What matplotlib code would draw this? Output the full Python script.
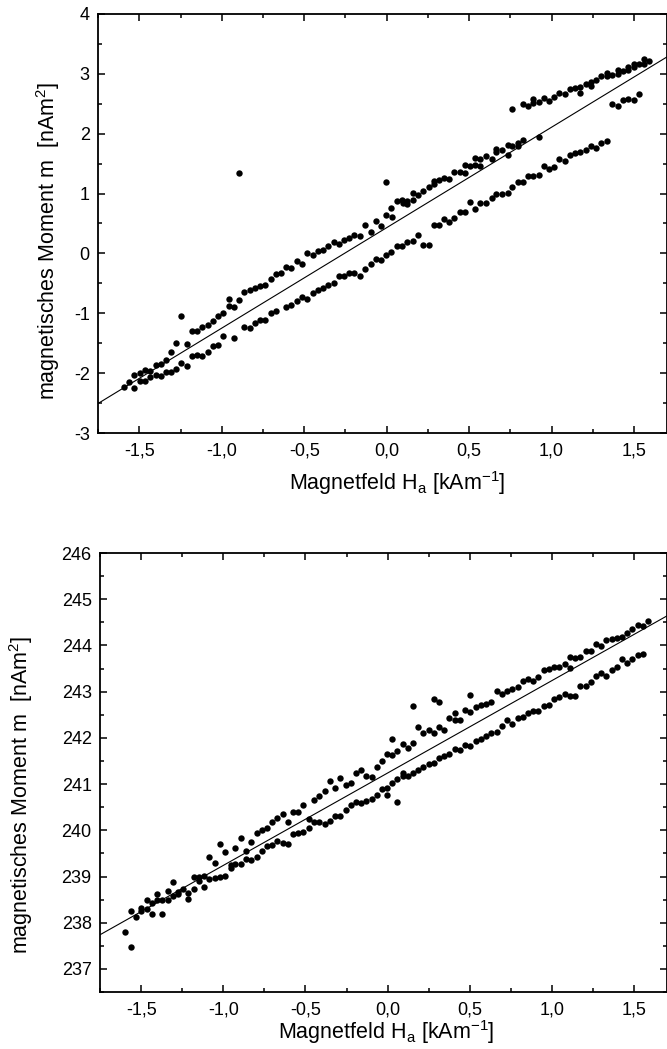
# -*- coding: utf-8 -*-
# Magnetisches Moment gegen Magnetfeld, zwei Messungen mit Ausgleichsgeraden
import numpy as np
import matplotlib
matplotlib.use('Agg')
import matplotlib.pyplot as plt
from matplotlib.ticker import MultipleLocator, FuncFormatter

plt.rcParams['font.family'] = ['Liberation Sans', 'DejaVu Sans']
plt.rcParams['mathtext.default'] = 'regular'

# ---------------- Messung 1 (oben) ----------------
H1_auf = [-1.595, -1.563, -1.530, -1.498, -1.466, -1.433, -1.401, -1.370, -1.338, -1.308,
          -1.275, -1.245, -1.213, -1.180, -1.150, -1.117, -1.085, -1.055, -1.022, -0.990,
          -0.957, -0.957, -0.925, -0.895, -0.895, -0.862, -0.830, -0.800, -0.767, -0.735,
          -0.704, -0.672, -0.640, -0.609, -0.577, -0.545, -0.512, -0.482, -0.449, -0.417,
          -0.387, -0.354, -0.322, -0.291, -0.259, -0.227, -0.196, -0.164, -0.130, -0.097,
          -0.065, -0.032, -0.002, -0.002, 0.024, 0.032, 0.065, 0.093, 0.097, 0.126,
          0.126, 0.158, 0.158, 0.190, 0.223, 0.255, 0.285, 0.285, 0.316, 0.348,
          0.381, 0.411, 0.443, 0.476, 0.476, 0.508, 0.538, 0.538, 0.569, 0.569,
          0.603, 0.636, 0.664, 0.664, 0.700, 0.733, 0.733, 0.763, 0.763, 0.794,
          0.794, 0.826, 0.826, 0.858, 0.889, 0.889, 0.921, 0.923, 0.953, 0.984,
          1.016, 1.047, 1.079, 1.111, 1.144, 1.174, 1.174, 1.206, 1.239, 1.239,
          1.271, 1.302, 1.336, 1.336, 1.368, 1.401, 1.401, 1.433, 1.466, 1.466,
          1.498, 1.498, 1.530, 1.563, 1.563, 1.593]
m1_auf = [-2.232, -2.148, -2.036, -1.997, -1.941, -1.964, -1.858, -1.841, -1.774, -1.645,
          -1.494, -1.042, -1.511, -1.304, -1.304, -1.226, -1.198, -1.137, -1.042, -0.997,
          -0.880, -0.763, -0.902, -0.785, 1.349, -0.651, -0.612, -0.573, -0.545, -0.528,
          -0.427, -0.344, -0.332, -0.232, -0.237, -0.131, -0.170, 0.003, -0.031, 0.047,
          0.053, 0.126, 0.193, 0.154, 0.221, 0.265, 0.316, 0.299, 0.478, 0.366,
          0.545, 0.450, 0.640, 1.198, 0.757, 0.611, 0.878, 0.889, 0.844, 0.878,
          0.822, 0.900, 1.011, 0.980, 1.044, 1.111, 1.156, 1.206, 1.233, 1.267,
          1.244, 1.361, 1.367, 1.344, 1.483, 1.456, 1.589, 1.478, 1.467, 1.572,
          1.628, 1.578, 1.744, 1.700, 1.722, 1.650, 1.817, 1.800, 2.406, 1.850,
          1.789, 1.900, 2.500, 2.456, 2.578, 2.511, 2.528, 1.939, 2.600, 2.544,
          2.606, 2.678, 2.656, 2.750, 2.767, 2.678, 2.778, 2.833, 2.867, 2.789,
          2.900, 2.956, 3.011, 2.967, 2.978, 3.067, 2.989, 3.044, 3.111, 3.056,
          3.167, 3.111, 3.167, 3.250, 3.156, 3.222]

H1_ab = [-1.530, -1.498, -1.466, -1.433, -1.401, -1.370, -1.338, -1.308, -1.275, -1.245,
         -1.213, -1.180, -1.150, -1.117, -1.085, -1.055, -1.022, -0.990, -0.925, -0.862,
         -0.830, -0.800, -0.767, -0.735, -0.704, -0.672, -0.609, -0.577, -0.545, -0.512,
         -0.482, -0.449, -0.417, -0.387, -0.354, -0.322, -0.291, -0.259, -0.227, -0.196,
         -0.164, -0.130, -0.097, -0.065, -0.032, -0.002, 0.024, 0.065, 0.093, 0.126,
         0.158, 0.190, 0.223, 0.255, 0.285, 0.316, 0.348, 0.381, 0.411, 0.443,
         0.476, 0.508, 0.538, 0.569, 0.603, 0.636, 0.664, 0.700, 0.733, 0.763,
         0.794, 0.826, 0.858, 0.889, 0.921, 0.953, 0.984, 1.016, 1.047, 1.079,
         1.111, 1.144, 1.174, 1.206, 1.239, 1.271, 1.302, 1.336, 1.368, 1.401,
         1.433, 1.466, 1.498, 1.530]
m1_ab = [-2.249, -2.137, -2.131, -2.064, -2.036, -2.042, -1.980, -1.986, -1.930, -1.830,
         -1.874, -1.718, -1.696, -1.707, -1.640, -1.545, -1.534, -1.377, -1.416, -1.237,
         -1.249, -1.165, -1.120, -1.120, -0.992, -0.958, -0.902, -0.869, -0.802, -0.735,
         -0.768, -0.668, -0.612, -0.573, -0.528, -0.489, -0.372, -0.372, -0.332, -0.321,
         -0.372, -0.254, -0.182, -0.098, -0.115, -0.020, 0.020, 0.122, 0.122, 0.189,
         0.200, 0.306, 0.144, 0.144, 0.467, 0.467, 0.567, 0.533, 0.600, 0.689,
         0.689, 0.867, 0.739, 0.844, 0.850, 0.933, 0.989, 0.994, 1.011, 1.106,
         1.189, 1.189, 1.289, 1.300, 1.311, 1.456, 1.411, 1.444, 1.578, 1.544,
         1.650, 1.683, 1.700, 1.722, 1.789, 1.767, 1.844, 1.878, 2.489, 2.467,
         2.556, 2.578, 2.556, 2.667]

# Ausgleichsgerade m = a*H + b
fit1 = (1.678, 0.43)

# ---------------- Messung 2 (unten) ----------------
H2_auf = [-1.596, -1.563, -1.531, -1.498, -1.465, -1.435, -1.402, -1.372, -1.339, -1.309,
          -1.276, -1.245, -1.213, -1.180, -1.148, -1.117, -1.085, -1.052, -1.021, -0.989,
          -0.956, -0.926, -0.893, -0.863, -0.830, -0.797, -0.765, -0.734, -0.702, -0.671,
          -0.639, -0.608, -0.575, -0.543, -0.512, -0.480, -0.447, -0.417, -0.384, -0.351,
          -0.321, -0.288, -0.256, -0.225, -0.192, -0.162, -0.129, -0.097, -0.064, -0.034,
          -0.001, 0.026, 0.026, 0.059, 0.091, 0.124, 0.154, 0.154, 0.185, 0.217,
          0.250, 0.283, 0.283, 0.313, 0.313, 0.346, 0.376, 0.409, 0.409, 0.439,
          0.472, 0.504, 0.504, 0.535, 0.567, 0.600, 0.630, 0.663, 0.695, 0.726,
          0.758, 0.791, 0.823, 0.854, 0.886, 0.917, 0.949, 0.982, 1.012, 1.045,
          1.077, 1.108, 1.108, 1.140, 1.173, 1.205, 1.236, 1.268, 1.301, 1.331,
          1.364, 1.396, 1.427, 1.459, 1.490, 1.522, 1.555, 1.585]
m2_auf = [237.79, 238.25, 238.13, 238.31, 238.49, 238.43, 238.63, 238.49, 238.68, 238.88,
          238.66, 238.74, 238.64, 239.00, 239.00, 239.01, 239.42, 239.29, 239.71, 239.54,
          239.24, 239.62, 239.83, 239.55, 239.75, 239.94, 240.01, 240.05, 240.18, 240.26,
          240.36, 240.19, 240.40, 240.39, 240.55, 240.24, 240.66, 240.74, 240.86, 241.06,
          240.91, 241.13, 240.99, 241.03, 241.23, 241.30, 241.17, 241.15, 241.37, 241.51,
          241.66, 241.97, 241.64, 241.71, 241.87, 241.78, 242.68, 241.89, 242.24, 242.10,
          242.16, 242.84, 242.10, 242.77, 242.23, 242.16, 242.43, 242.54, 242.38, 242.38,
          242.61, 242.93, 242.55, 242.66, 242.72, 242.74, 242.77, 243.01, 242.95, 243.01,
          243.05, 243.11, 243.22, 243.28, 243.23, 243.31, 243.47, 243.49, 243.53, 243.54,
          243.60, 243.75, 243.52, 243.73, 243.76, 243.89, 243.89, 244.03, 243.98, 244.11,
          244.14, 244.17, 244.19, 244.28, 244.35, 244.45, 244.42, 244.52]

H2_ab = [-1.563, -1.498, -1.465, -1.435, -1.402, -1.372, -1.339, -1.309, -1.276, -1.213,
         -1.180, -1.148, -1.117, -1.085, -1.052, -1.021, -0.989, -0.956, -0.926, -0.893,
         -0.863, -0.830, -0.797, -0.765, -0.734, -0.702, -0.671, -0.639, -0.608, -0.575,
         -0.543, -0.512, -0.480, -0.447, -0.417, -0.384, -0.351, -0.321, -0.288, -0.256,
         -0.225, -0.192, -0.162, -0.129, -0.097, -0.064, -0.034, -0.001, -0.001, 0.026,
         0.059, 0.059, 0.091, 0.091, 0.124, 0.154, 0.185, 0.217, 0.250, 0.283,
         0.313, 0.346, 0.376, 0.409, 0.439, 0.472, 0.504, 0.535, 0.567, 0.600,
         0.630, 0.663, 0.695, 0.726, 0.758, 0.791, 0.823, 0.854, 0.886, 0.917,
         0.949, 0.982, 1.012, 1.045, 1.077, 1.108, 1.140, 1.173, 1.205, 1.236,
         1.268, 1.301, 1.331, 1.364, 1.396, 1.427, 1.459, 1.490, 1.522, 1.555]
m2_ab = [237.47, 238.26, 238.29, 238.18, 238.49, 238.19, 238.49, 238.58, 238.63, 238.52,
         238.73, 238.90, 238.78, 238.95, 238.96, 239.00, 239.02, 239.18, 239.27, 239.26,
         239.37, 239.35, 239.42, 239.55, 239.65, 239.69, 239.76, 239.72, 239.71, 239.91,
         239.94, 239.97, 240.06, 240.18, 240.17, 240.14, 240.21, 240.32, 240.32, 240.43,
         240.55, 240.62, 240.59, 240.63, 240.68, 240.76, 240.89, 240.91, 240.77, 241.02,
         241.10, 240.61, 241.25, 241.17, 241.17, 241.25, 241.31, 241.38, 241.43, 241.46,
         241.56, 241.61, 241.66, 241.77, 241.74, 241.84, 241.83, 241.93, 241.98, 242.05,
         242.10, 242.13, 242.26, 242.38, 242.31, 242.44, 242.46, 242.54, 242.58, 242.58,
         242.69, 242.72, 242.85, 242.89, 242.94, 242.91, 242.90, 243.13, 243.13, 243.20,
         243.33, 243.40, 243.33, 243.47, 243.53, 243.70, 243.63, 243.70, 243.80, 243.82]

fit2 = (2.0, 241.24)

xlim = (-1.75, 1.70)
ylim1 = (-3, 4)
ylim2 = (236.5, 246)

xlabel = 'Magnetfeld H$_a$ [kAm$^{-1}$]'
ylabel = 'magnetisches Moment m  [nAm$^2$]'


def komma(v, pos):
    return ('%.1f' % v).replace('.', ',')


def achse(ax, H_a, m_a, H_b, m_b, fit, ylim, xlab_pos, ylab_pos):
    ax.plot(H_a, m_a, 'o', color='black', ms=4.6, mew=0)
    ax.plot(H_b, m_b, 'o', color='black', ms=4.6, mew=0)
    xx = np.array(xlim)
    ax.plot(xx, fit[0] * xx + fit[1], '-', color='black', lw=0.8)
    ax.set_xlim(xlim)
    ax.set_ylim(ylim)
    ax.xaxis.set_major_locator(MultipleLocator(0.5))
    ax.xaxis.set_minor_locator(MultipleLocator(0.25))
    ax.yaxis.set_major_locator(MultipleLocator(1))
    ax.yaxis.set_minor_locator(MultipleLocator(0.5))
    ax.xaxis.set_major_formatter(FuncFormatter(komma))
    ax.yaxis.set_major_formatter(FuncFormatter(lambda v, p: '%d' % round(v)))
    ax.tick_params(which='both', direction='in', top=True, right=True,
                   labelsize=13, width=1.1, colors='black')
    ax.tick_params(which='major', length=5)
    ax.tick_params(which='minor', length=3)
    ax.tick_params(axis='x', which='major', pad=7)
    ax.tick_params(axis='y', which='major', pad=6)
    for s in ax.spines.values():
        s.set_linewidth(1.3)
    ax.set_xlabel(xlabel, fontsize=15.5)
    ax.set_ylabel(ylabel, fontsize=15.5)
    ax.xaxis.set_label_coords(*xlab_pos)
    ax.yaxis.set_label_coords(*ylab_pos)


fig = plt.figure(figsize=(6.67, 10.49), dpi=100)
ax1 = fig.add_axes([0.147, 0.5872, 0.853, 0.3995])
ax2 = fig.add_axes([0.150, 0.0543, 0.850, 0.4185])

achse(ax1, H1_auf, m1_auf, H1_ab, m1_ab, fit1, ylim1, (0.525, -0.085), (-0.063, 0.458))
achse(ax2, H2_auf, m2_auf, H2_ab, m2_ab, fit2, ylim2, (0.505, -0.060), (-0.115, 0.449))

fig.savefig('out.png', dpi=100)
